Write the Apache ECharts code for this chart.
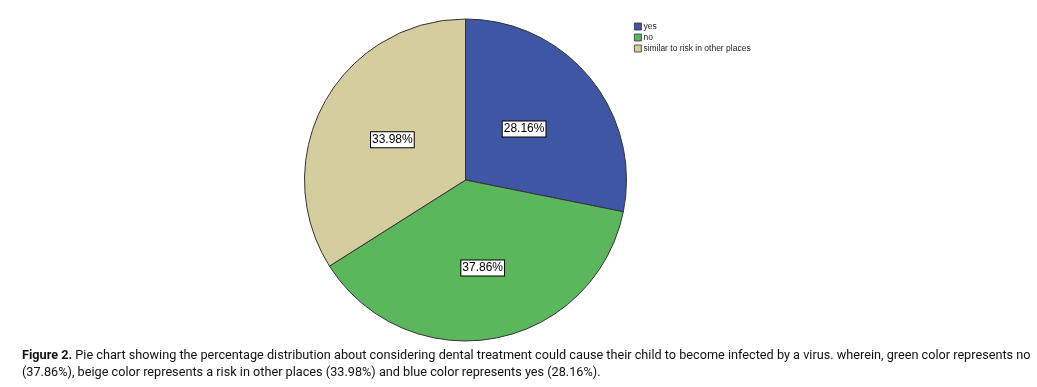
<!DOCTYPE html>
<html>
<head>
<meta charset="utf-8">
<script src="https://cdn.jsdelivr.net/npm/echarts@6/dist/echarts.min.js"></script>
<style>html,body{margin:0;padding:0;background:#fff}#c{width:1037px;height:387px}</style>
</head>
<body>
<div id="c"></div>
<script>
var categories = ['yes', 'no', 'similar to risk in other places'];
var values = [28.16, 37.86, 33.98];
var colors = ['#3f56a5', '#5bb75c', '#d4ce9e'];
var captionLine1 = ' Pie chart showing the percentage distribution about considering dental treatment could cause their child to become infected by a virus. wherein, green color represents no';
var captionLine2 = '(37.86%), beige color represents a risk in other places (33.98%) and blue color represents yes (28.16%).';
var labelShift = [[-6, 2], [2, 6], [0, 0]];

var chart = echarts.init(document.getElementById('c'), null, {renderer: 'canvas'});
chart.setOption({
  animation: false,
  color: colors,
  graphic: [{
    type: 'text',
    left: 22, top: 349,
    scaleX: 0.94,
    originX: 0,
    style: {
      text: '{b|Figure 2.}{r|' + captionLine1 + '}\n{r|' + captionLine2 + '}',
      rich: {
        b: {fontFamily: 'Roboto, sans-serif', fontWeight: 'bold', fontSize: 13.5, fill: '#111', lineHeight: 17},
        r: {fontFamily: 'Roboto, sans-serif', fontWeight: 'normal', fontSize: 13.5, fill: '#111', lineHeight: 17}
      }
    }
  }],
  legend: {
    orient: 'vertical', left: 634, top: 22, padding: 0,
    itemWidth: 7, itemHeight: 7, itemGap: 2,
    icon: 'rect',
    textStyle: {fontSize: 8.5, color: '#222', fontFamily: 'Arial, "Liberation Sans", sans-serif', padding: [0,0,0,-3]},
    itemStyle: {borderColor: '#333', borderWidth: 0.8},
    data: categories
  },
  series: [{
    type: 'pie',
    center: [465.5, 180],
    radius: [0, 161],
    startAngle: 90,
    clockwise: true,
    itemStyle: {borderColor: '#333', borderWidth: 1},
    label: {
      position: 'inside',
      formatter: function(p){ return p.value.toFixed(2) + '%'; },
      fontFamily: 'Arial, "Liberation Sans", sans-serif',
      fontSize: 12, color: '#000',
      backgroundColor: '#fff', borderColor: '#000', borderWidth: 1,
      padding: [2, 1, 1, 1]
    },
    labelLayout: function(p){ return {dx: labelShift[p.dataIndex][0], dy: labelShift[p.dataIndex][1]}; },
    labelLine: {show: false},
    emphasis: {disabled: true},
    data: categories.map(function(c, i){ return {name: c, value: values[i]}; })
  }]
});
</script>
</body>
</html>
